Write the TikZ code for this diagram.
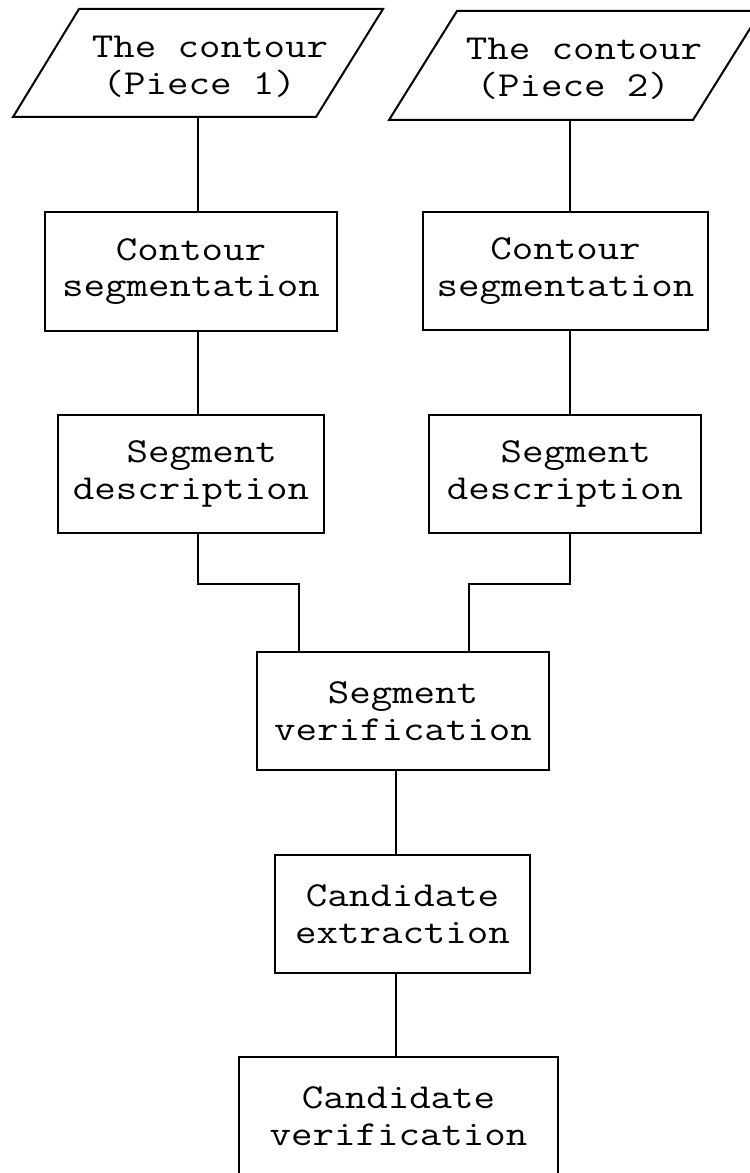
\documentclass[tikz,border=0pt]{standalone}
\usepackage{fontspec}
\setmonofont{Latin Modern Mono}[FakeStretch=1.19]
\begin{document}
\begin{tikzpicture}[x=0.75pt,y=-0.75pt,
  line width=1.5pt,
  every node/.style={font=\ttfamily\fontsize{26.3}{27.5}\selectfont, align=center, inner sep=0pt},
  stepbox/.style={draw, line width=1.5pt, minimum height=88.5pt},
  iobox/.style={line width=1.5pt}]
\useasboundingbox (0,0) rectangle (749,1173);

% input parallelograms
\draw[iobox] (79,9) -- (383,9) -- (316,117) -- (13,117) -- cycle;
\draw[iobox] (457,11) -- (761,11) -- (693,120) -- (389,120) -- cycle;
\node (p1) at (210,67) {The contour\\(Piece 1)\hphantom{)}};
\node (p2) at (584,69) {The contour\\(Piece 2)\hphantom{)}};

% processing steps
\node[stepbox, minimum width=219pt]    (c1) at (191,271.5) {Contour\\segmentation};
\node[stepbox, minimum width=213.75pt] (c2) at (565.5,271) {Contour\\segmentation};
\node[stepbox, minimum width=199.5pt]  (d1) at (191,474) {\hphantom{S}Segment\\description};
\node[stepbox, minimum width=204pt]    (d2) at (565,474) {\hphantom{S}Segment\\description};
\node[stepbox, minimum width=219pt]    (sv) at (403,711) {Segment\\verification};
\node[stepbox, minimum width=191.25pt] (ce) at (402.5,914) {Candidate\\extraction};
\node[stepbox, minimum width=239.25pt] (cv) at (398.5,1116) {Candidate\\verification};

% connector positions
\coordinate (lb) at (198,117);
\coordinate (rb) at (570,120);
\coordinate (jl) at (299,584);
\coordinate (jr) at (469,584);
\coordinate (tk) at (396,0);

\draw (lb) -- (c1.north -| lb);
\draw (rb) -- (c2.north -| rb);
\draw (c1.south -| lb) -- (d1.north -| lb);
\draw (c2.south -| rb) -- (d2.north -| rb);
\draw (d1.south -| lb) |- (jl) -- (sv.north -| jl);
\draw (d2.south -| rb) |- (jr) -- (sv.north -| jr);
\draw (sv.south -| tk) -- (ce.north -| tk);
\draw (ce.south -| tk) -- (cv.north -| tk);
\end{tikzpicture}
\end{document}
